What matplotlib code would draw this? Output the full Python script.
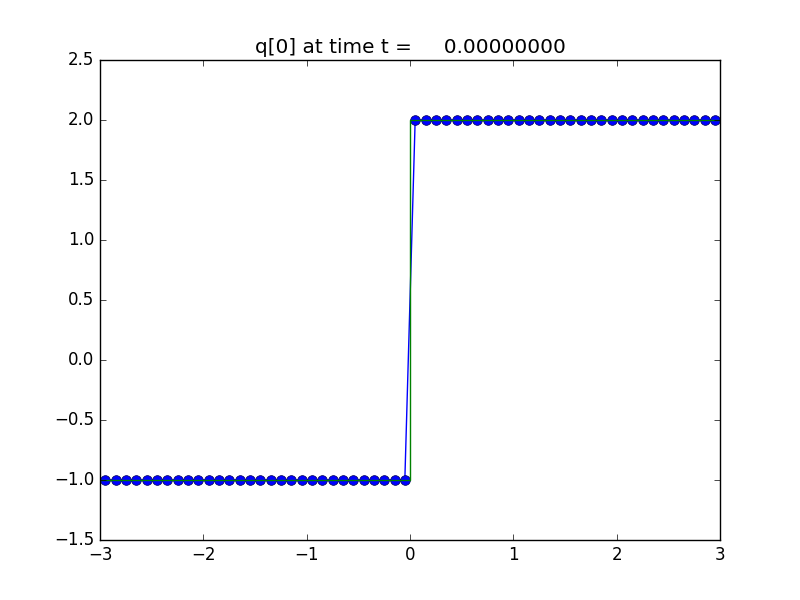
import matplotlib
matplotlib.use("Agg")
import matplotlib.pyplot as plt

plt.style.use("classic")

x_cells = [-2.95, -2.85, -2.75, -2.65, -2.55, -2.45, -2.35, -2.25, -2.15, -2.05,
           -1.95, -1.85, -1.75, -1.65, -1.55, -1.45, -1.35, -1.25, -1.15, -1.05,
           -0.95, -0.85, -0.75, -0.65, -0.55, -0.45, -0.35, -0.25, -0.15, -0.05,
           0.05, 0.15, 0.25, 0.35, 0.45, 0.55, 0.65, 0.75, 0.85, 0.95,
           1.05, 1.15, 1.25, 1.35, 1.45, 1.55, 1.65, 1.75, 1.85, 1.95,
           2.05, 2.15, 2.25, 2.35, 2.45, 2.55, 2.65, 2.75, 2.85, 2.95]
q_cells = [-1.0, -1.0, -1.0, -1.0, -1.0, -1.0, -1.0, -1.0, -1.0, -1.0,
           -1.0, -1.0, -1.0, -1.0, -1.0, -1.0, -1.0, -1.0, -1.0, -1.0,
           -1.0, -1.0, -1.0, -1.0, -1.0, -1.0, -1.0, -1.0, -1.0, -1.0,
           2.0, 2.0, 2.0, 2.0, 2.0, 2.0, 2.0, 2.0, 2.0, 2.0,
           2.0, 2.0, 2.0, 2.0, 2.0, 2.0, 2.0, 2.0, 2.0, 2.0,
           2.0, 2.0, 2.0, 2.0, 2.0, 2.0, 2.0, 2.0, 2.0, 2.0]

x_true = [-3.0, 0.0, 0.0, 3.0]
q_true = [-1.0, -1.0, 2.0, 2.0]

title = "q[0] at time t =     0.00000000"

fig = plt.figure(figsize=(8, 6), dpi=100, facecolor="white")
ax = fig.add_axes([0.125, 0.1, 0.775, 0.8])
ax.plot(x_cells, q_cells, "b-", marker="o", markersize=7, markerfacecolor="b",
        markeredgecolor="#000050", markeredgewidth=0.5, linewidth=1.0)
ax.plot(x_true, q_true, "g-", linewidth=1.0)
ax.set_xlim(-3, 3)
ax.set_ylim(-1.5, 2.5)
ax.set_xticks([-3, -2, -1, 0, 1, 2, 3])
ax.set_yticks([-1.5, -1.0, -0.5, 0.0, 0.5, 1.0, 1.5, 2.0, 2.5])
ax.set_title(title, fontsize=14.4)
fig.savefig("out.png", dpi=100, facecolor="white")
